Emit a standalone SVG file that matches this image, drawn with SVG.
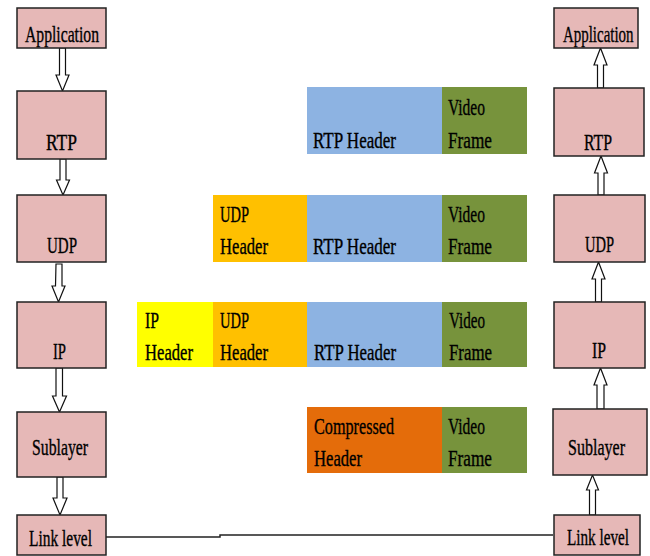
<svg xmlns="http://www.w3.org/2000/svg" width="650" height="556" viewBox="0 0 650 556">
<defs>
<style>
.box{fill:#E6B8B7;stroke:#222;stroke-width:1.5}
.arr{fill:#fff;stroke:#111;stroke-width:1.2;stroke-linejoin:miter}
text{font-family:"Liberation Serif","Times New Roman",serif;font-size:23px;fill:#000;stroke:#000;stroke-width:0.35}
.blue{fill:#8DB3E2}.green{fill:#77933C}.orange{fill:#FFC000}.yellow{fill:#FFFF00}.dorange{fill:#E46C0A}
</style>
</defs>
<rect width="650" height="556" fill="#fff"/>
<g id="connectors">
<path class="arr" d="M59.5,48 H65.5 V75 H69 L62.5,91 L56,75 H59.5 Z"/>
<path class="arr" d="M60,159 H66 V180 H69.5 L63,195 L56.5,180 H60 Z"/>
<path class="arr" d="M56,264 H62 V286 H65 L58.5,302 L52,286 H55.5 Z"/>
<path class="arr" d="M56,368 H62.5 V396 H66.5 L59.5,412 L52.5,396 H56 Z"/>
<path class="arr" d="M57,477 H63 V498 H67 L60,515 L53,498 H57 Z"/>
<path class="arr" d="M597.5,88 H603.5 V65 H607 L600.5,48 L594,65 H597.5 Z"/>
<path class="arr" d="M598,195 H604 V173 H607.5 L601,156 L594.5,173 H598 Z"/>
<path class="arr" d="M595.5,302 H601.5 V279 H605 L598.5,262 L592,279 H595.5 Z"/>
<path class="arr" d="M597,409 H604 V385 H607 L600.5,368 L594,385 H597 Z"/>
<path class="arr" d="M589.5,515 H595.5 V490 H598.5 L592.5,475 L586.5,490 H589.5 Z"/>
<path d="M106,537 H220 V535 H553" fill="none" stroke="#222" stroke-width="1.5"/>
</g>
<g id="left-application"><rect class="box" x="17" y="8" width="89" height="40"/><text x="25" y="42" textLength="74" lengthAdjust="spacingAndGlyphs">Application</text></g>
<g id="left-rtp"><rect class="box" x="17" y="91" width="89" height="68"/><text x="46" y="150" textLength="31" lengthAdjust="spacingAndGlyphs">RTP</text></g>
<g id="left-udp"><rect class="box" x="17" y="195" width="89" height="67"/><text x="47" y="253" textLength="30" lengthAdjust="spacingAndGlyphs">UDP</text></g>
<g id="left-ip"><rect class="box" x="17" y="302" width="89" height="66"/><text x="53" y="359" textLength="13" lengthAdjust="spacingAndGlyphs">IP</text></g>
<g id="left-sublayer"><rect class="box" x="17" y="412" width="89" height="65"/><text x="32" y="455" textLength="56" lengthAdjust="spacingAndGlyphs">Sublayer</text></g>
<g id="left-link"><rect class="box" x="17" y="515" width="89" height="40"/><text x="29" y="546" textLength="63" lengthAdjust="spacingAndGlyphs">Link level</text></g>
<g id="right-application"><rect class="box" x="554" y="8" width="84" height="40"/><text transform="translate(563,42) scale(0.65,1)">Application</text></g>
<g id="right-rtp"><rect class="box" x="554" y="88" width="90" height="68"/><text x="584" y="150" textLength="28" lengthAdjust="spacingAndGlyphs">RTP</text></g>
<g id="right-udp"><rect class="box" x="554" y="195" width="91" height="67"/><text x="585" y="252" textLength="29" lengthAdjust="spacingAndGlyphs">UDP</text></g>
<g id="right-ip"><rect class="box" x="554" y="302" width="91" height="66"/><text x="592" y="358" textLength="14" lengthAdjust="spacingAndGlyphs">IP</text></g>
<g id="right-sublayer"><rect class="box" x="553" y="409" width="94" height="66"/><text x="568" y="455" textLength="57" lengthAdjust="spacingAndGlyphs">Sublayer</text></g>
<g id="right-link"><rect class="box" x="554" y="515" width="86" height="40"/><text transform="translate(567,545) scale(0.66,1)">Link level</text></g>
<g id="packet-rtp">
<rect class="blue" x="307" y="87" width="135" height="67"/><rect class="green" x="442" y="87" width="85" height="67"/>
<text x="313" y="148" textLength="83" lengthAdjust="spacingAndGlyphs">RTP Header</text>
<text x="448" y="115" textLength="37" lengthAdjust="spacingAndGlyphs">Video</text>
<text x="448" y="148" textLength="44" lengthAdjust="spacingAndGlyphs">Frame</text>
</g>
<g id="packet-udp">
<rect class="orange" x="213" y="195" width="94" height="67"/><rect class="blue" x="307" y="195" width="135" height="67"/><rect class="green" x="442" y="195" width="85" height="67"/>
<text x="220" y="222" textLength="29" lengthAdjust="spacingAndGlyphs">UDP</text>
<text x="220" y="254" textLength="48" lengthAdjust="spacingAndGlyphs">Header</text>
<text x="313" y="254" textLength="83" lengthAdjust="spacingAndGlyphs">RTP Header</text>
<text x="448" y="222" textLength="37" lengthAdjust="spacingAndGlyphs">Video</text>
<text x="448" y="254" textLength="44" lengthAdjust="spacingAndGlyphs">Frame</text>
</g>
<g id="packet-ip">
<rect class="yellow" x="137" y="302" width="76" height="65"/><rect class="orange" x="213" y="302" width="94" height="65"/><rect class="blue" x="307" y="302" width="135" height="65"/><rect class="green" x="442" y="302" width="85" height="65"/>
<text x="145" y="328" textLength="14" lengthAdjust="spacingAndGlyphs">IP</text>
<text x="145" y="360" textLength="48" lengthAdjust="spacingAndGlyphs">Header</text>
<text x="220" y="328" textLength="29" lengthAdjust="spacingAndGlyphs">UDP</text>
<text x="220" y="360" textLength="48" lengthAdjust="spacingAndGlyphs">Header</text>
<text x="314" y="360" textLength="82" lengthAdjust="spacingAndGlyphs">RTP Header</text>
<text x="449" y="328" textLength="36" lengthAdjust="spacingAndGlyphs">Video</text>
<text x="449" y="360" textLength="43" lengthAdjust="spacingAndGlyphs">Frame</text>
</g>
<g id="packet-compressed">
<rect class="dorange" x="307" y="407" width="135" height="66"/><rect class="green" x="442" y="407" width="85" height="66"/>
<text x="314" y="434" textLength="80" lengthAdjust="spacingAndGlyphs">Compressed</text>
<text x="314" y="466" textLength="48" lengthAdjust="spacingAndGlyphs">Header</text>
<text x="448" y="434" textLength="37" lengthAdjust="spacingAndGlyphs">Video</text>
<text x="448" y="466" textLength="44" lengthAdjust="spacingAndGlyphs">Frame</text>
</g>
</svg>
